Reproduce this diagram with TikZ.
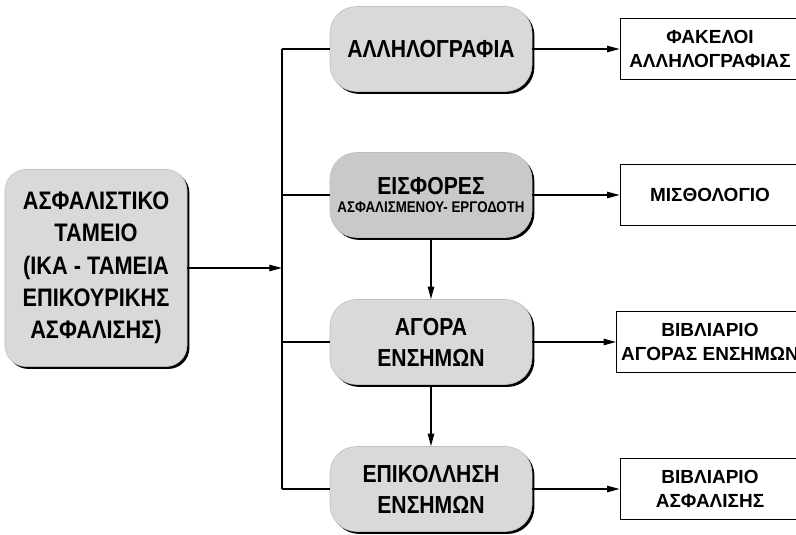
\documentclass[tikz,border=0pt]{standalone}
\usepackage{fontspec}
\setmainfont{Liberation Sans}
\newfontfamily\condfont{Liberation Sans}[FakeStretch=0.86]
\usetikzlibrary{arrows.meta,shadows}

\tikzset{
  boxshadow/.style={drop shadow={shadow xshift=1.7pt, shadow yshift=-1.7pt, fill=black, opacity=1}},
  fund/.style={rounded corners=15pt, fill=gray!30, draw=gray!50, thin, boxshadow,
    align=center, font=\condfont\bfseries\fontsize{18}{23}\selectfont,
    minimum width=4.55cm, minimum height=4.925cm, inner sep=2pt},
  task/.style={rounded corners=19pt, fill=gray!30, draw=gray!50, thin, boxshadow,
    align=center, font=\condfont\bfseries\fontsize{17.5}{22}\selectfont,
    minimum width=5.05cm, minimum height=2.125cm, inner sep=1pt},
  book/.style={draw, thin, fill=white, align=center,
    font=\bfseries\fontsize{13.5}{17}\selectfont,
    minimum width=4.5cm, minimum height=1.525cm},
  link/.style={line width=1.1pt},
  flow/.style={line width=1.1pt, -{Triangle[length=9pt,width=4.5pt]}}
}

\begin{document}
\begin{tikzpicture}[x=0.025cm, y=-0.025cm]
    \useasboundingbox (0,0) rectangle (796,534);

    \node[fund] (fund) at (96,268) {ΑΣΦΑΛΙΣΤΙΚΟ\\ΤΑΜΕΙΟ\\(ΙΚΑ - ΤΑΜΕΙΑ\\ΕΠΙΚΟΥΡΙΚΗΣ\\ΑΣΦΑΛΙΣΗΣ)};

    \node[task] (mail) at (431,49) {ΑΛΛΗΛΟΓΡΑΦΙΑ};
    \node[task, fill=gray!42, font=\condfont\bfseries\fontsize{17.5}{13}\selectfont] (dues) at (431,195)
        {ΕΙΣΦΟΡΕΣ\\{\fontsize{11}{12}\selectfont ΑΣΦΑΛΙΣΜΕΝΟΥ- ΕΡΓΟΔΟΤΗ}};
    \node[task] (buy) at (431,342) {ΑΓΟΡΑ\\ΕΝΣΗΜΩΝ};
    \node[task] (stick) at (431,489) {ΕΠΙΚΟΛΛΗΣΗ\\ΕΝΣΗΜΩΝ};

    \node[book] (files) at (710,49) {ΦΑΚΕΛΟΙ\\ΑΛΛΗΛΟΓΡΑΦΙΑΣ};
    \node[book] (payroll) at (710,195) {ΜΙΣΘΟΛΟΓΙΟ};
    \node[book] (stamps) at (710,342) {ΒΙΒΛΙΑΡΙΟ\\ΑΓΟΡΑΣ ΕΝΣΗΜΩΝ};
    \node[book] (insured) at (710,489) {ΒΙΒΛΙΑΡΙΟ\\ΑΣΦΑΛΙΣΗΣ};

    % bus line
    \coordinate (bustop) at (282,49);
    \coordinate (busbot) at (282,489);
    \draw[link] (bustop) -- (busbot);
    \draw[flow] (fund.east) -- (fund.east -| bustop);
    \foreach \n in {mail,dues,buy,stick}
        \draw[link] (\n.west -| bustop) -- (\n.west);

    \draw[flow] (mail) -- (files);
    \draw[flow] (dues) -- (payroll);
    \draw[flow] (buy) -- (stamps);
    \draw[flow] (stick) -- (insured);
    \draw[flow] (dues) -- (buy);
    \draw[flow] (buy) -- (stick);

\end{tikzpicture}
\end{document}
